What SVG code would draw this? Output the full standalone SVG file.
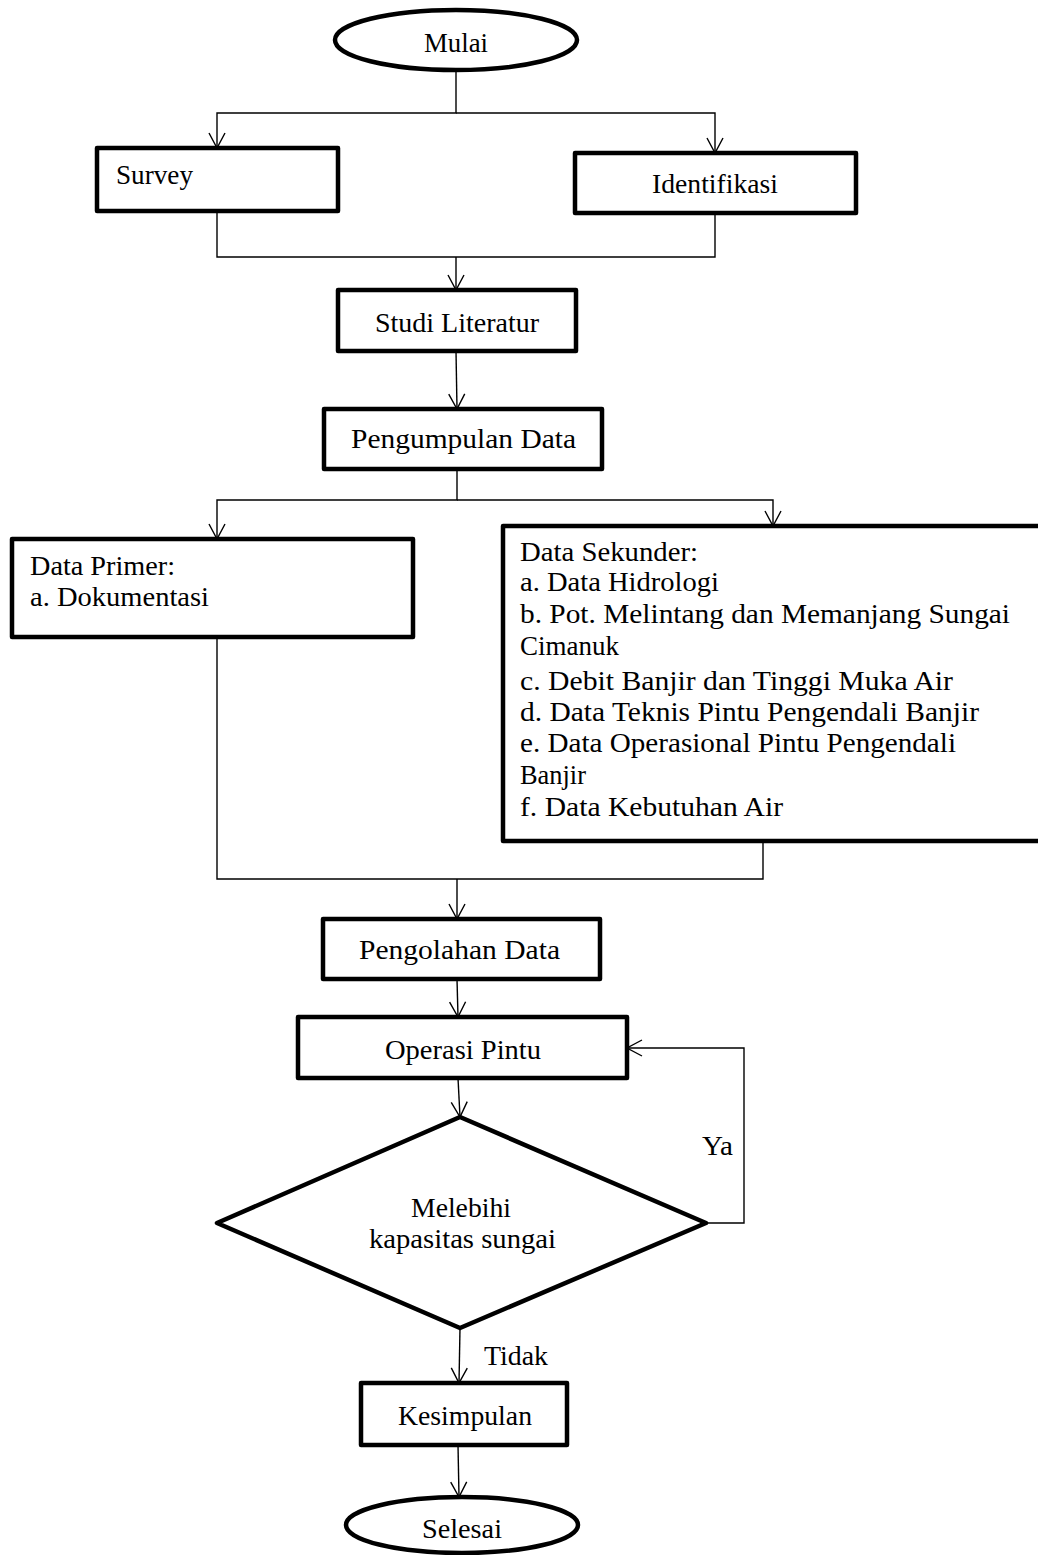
<svg xmlns="http://www.w3.org/2000/svg" width="1038" height="1555" viewBox="0 0 1038 1555">
<defs>
<style>
.box{fill:#fff;stroke:#000;stroke-width:4.5;stroke-linejoin:round}
.con{fill:none;stroke:#000;stroke-width:1.4}
.t{font-family:"Liberation Serif","Times New Roman",serif;font-size:28px;fill:#000}
</style>
<marker id="ah" markerUnits="userSpaceOnUse" markerWidth="20" markerHeight="20" viewBox="0 0 20 20" refX="16" refY="10" orient="auto">
<path d="M1,2 L16,10 L1,18" fill="none" stroke="#000" stroke-width="1.4"/>
</marker>
</defs>
<rect width="1038" height="1555" fill="#fff"/>
<g id="connectors">
<path class="con" d="M456,72 V113 H217 V148" marker-end="url(#ah)"/>
<path class="con" d="M456,113 H715 V153" marker-end="url(#ah)"/>
<path class="con" d="M217,211 V257 H715 V213"/>
<path class="con" d="M456,257 V290" marker-end="url(#ah)"/>
<path class="con" d="M456,351 L457,409" marker-end="url(#ah)"/>
<path class="con" d="M457,469 V500 H217 V539" marker-end="url(#ah)"/>
<path class="con" d="M457,500 H773 V526" marker-end="url(#ah)"/>
<path class="con" d="M217,637 V879 H763 V841"/>
<path class="con" d="M457,879 V919" marker-end="url(#ah)"/>
<path class="con" d="M457,979 L458,1017" marker-end="url(#ah)"/>
<path class="con" d="M458,1078 L460,1117" marker-end="url(#ah)"/>
<path class="con" d="M706,1223 H744 V1048 H627" marker-end="url(#ah)"/>
<path class="con" d="M460,1328 L459,1383" marker-end="url(#ah)"/>
<path class="con" d="M458,1445 L459,1497" marker-end="url(#ah)"/>
<text class="t" x="702" y="1155" textLength="31" lengthAdjust="spacingAndGlyphs">Ya</text>
<text class="t" x="484" y="1365" textLength="64" lengthAdjust="spacingAndGlyphs">Tidak</text>
</g>
<g id="mulai">
<ellipse class="box" cx="456" cy="40" rx="121" ry="30"/>
<text class="t" x="424" y="52" textLength="64" lengthAdjust="spacingAndGlyphs">Mulai</text>
</g>
<g id="survey">
<rect class="box" x="97" y="148" width="241" height="63"/>
<text class="t" x="116" y="184" textLength="77" lengthAdjust="spacingAndGlyphs">Survey</text>
</g>
<g id="identifikasi">
<rect class="box" x="575" y="153" width="281" height="60"/>
<text class="t" x="652" y="193" textLength="126" lengthAdjust="spacingAndGlyphs">Identifikasi</text>
</g>
<g id="studi">
<rect class="box" x="338" y="290" width="238" height="61"/>
<text class="t" x="375" y="332" textLength="164" lengthAdjust="spacingAndGlyphs">Studi Literatur</text>
</g>
<g id="pengumpulan">
<rect class="box" x="324" y="409" width="278" height="60"/>
<text class="t" x="351" y="448" textLength="225" lengthAdjust="spacingAndGlyphs">Pengumpulan Data</text>
</g>
<g id="primer">
<rect class="box" x="12" y="539" width="401" height="98"/>
<text class="t" x="30" y="575" textLength="145" lengthAdjust="spacingAndGlyphs">Data Primer:</text>
<text class="t" x="30" y="606" textLength="179" lengthAdjust="spacingAndGlyphs">a. Dokumentasi</text>
</g>
<g id="sekunder">
<rect class="box" x="503" y="526" width="545" height="315"/>
<text class="t" x="520" y="561" textLength="178" lengthAdjust="spacingAndGlyphs">Data Sekunder:</text>
<text class="t" x="520" y="591" textLength="199" lengthAdjust="spacingAndGlyphs">a. Data Hidrologi</text>
<text class="t" x="520" y="623" textLength="490" lengthAdjust="spacingAndGlyphs">b. Pot. Melintang dan Memanjang Sungai</text>
<text class="t" x="520" y="655" textLength="99" lengthAdjust="spacingAndGlyphs">Cimanuk</text>
<text class="t" x="520" y="690" textLength="433" lengthAdjust="spacingAndGlyphs">c. Debit Banjir dan Tinggi Muka Air</text>
<text class="t" x="520" y="721" textLength="459" lengthAdjust="spacingAndGlyphs">d. Data Teknis Pintu Pengendali Banjir</text>
<text class="t" x="520" y="752" textLength="436" lengthAdjust="spacingAndGlyphs">e. Data Operasional Pintu Pengendali</text>
<text class="t" x="520" y="784" textLength="66" lengthAdjust="spacingAndGlyphs">Banjir</text>
<text class="t" x="520" y="816" textLength="263" lengthAdjust="spacingAndGlyphs">f. Data Kebutuhan Air</text>
</g>
<g id="pengolahan">
<rect class="box" x="323" y="919" width="277" height="60"/>
<text class="t" x="359" y="959" textLength="201" lengthAdjust="spacingAndGlyphs">Pengolahan Data</text>
</g>
<g id="operasi">
<rect class="box" x="298" y="1017" width="329" height="61"/>
<text class="t" x="385" y="1059" textLength="156" lengthAdjust="spacingAndGlyphs">Operasi Pintu</text>
</g>
<g id="keputusan">
<polygon class="box" points="460,1117 706,1223 460,1328 217,1223"/>
<text class="t" x="411" y="1217" textLength="100" lengthAdjust="spacingAndGlyphs">Melebihi</text>
<text class="t" x="369" y="1248" textLength="187" lengthAdjust="spacingAndGlyphs">kapasitas sungai</text>
</g>
<g id="kesimpulan">
<rect class="box" x="361" y="1383" width="206" height="62"/>
<text class="t" x="398" y="1425" textLength="134" lengthAdjust="spacingAndGlyphs">Kesimpulan</text>
</g>
<g id="selesai">
<ellipse class="box" cx="462" cy="1525" rx="116" ry="28"/>
<text class="t" x="422" y="1538" textLength="80" lengthAdjust="spacingAndGlyphs">Selesai</text>
</g>
</svg>
